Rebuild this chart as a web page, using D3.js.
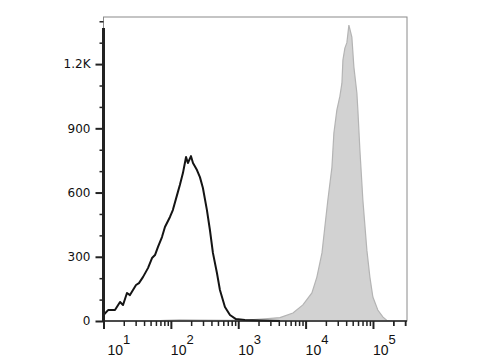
<!DOCTYPE html>
<html>
<head>
<meta charset="utf-8">
<script src="https://cdn.jsdelivr.net/npm/d3@7/dist/d3.min.js"></script>
<style>
  body { margin: 0; background: #fff; }
  svg { display: block; }
</style>
</head>
<body>
<script>
// isotype / unstained (black outline)
var ctrlX = [10, 11.7, 14.8, 17.6, 19.5, 22.3, 24.7, 27.4, 30.4, 33.6, 38.5, 45.7, 52.5, 58.1,
             64.4, 73.8, 81.7, 97, 107, 127, 136, 151, 168, 179, 199, 213, 244, 270, 299,
             343, 380, 421, 483, 535, 635, 754, 925, 1256, 2100, 4160];
var ctrlY = [28, 51, 51, 89, 75, 131, 121, 145, 168, 177, 205, 247, 294, 308,
             346, 392, 439, 486, 518, 602, 635, 691, 766, 738, 770, 738, 705, 672, 621,
             518, 425, 318, 224, 145, 65, 28, 9, 5, 2, 0];

// stained sample (grey filled)
var stainX = [49, 82, 136, 270, 754, 1490, 2490, 4160, 6490, 9120, 12400, 14700, 17500, 19300,
              21400, 24600, 26300, 29100, 32300, 34600, 35800, 38300, 41000, 43900, 48600,
              52100, 57700, 59700, 64000, 70800, 81200, 90000, 99700, 118000, 140000, 161000, 191000];
var stainY = [0, 3, 5, 4, 3, 5, 10, 16, 37, 75, 131, 205, 318, 439,
              565, 719, 878, 985, 1050, 1111, 1219, 1275, 1300, 1382, 1326,
              1186, 1065, 985, 798, 565, 331, 205, 112, 51, 19, 3, 0];

var yMajor = [0, 300, 600, 900, 1200];
var yLabels = ["0", "300", "600", "900", "1.2K"];
var xDecades = [1, 2, 3, 4, 5];

var svg = d3.select("body").append("svg")
    .attr("width", 480)
    .attr("height", 360);

var x = d3.scaleLog().domain([10, 3.2e5]).range([103.5, 407]);
var y = d3.scaleLinear().domain([0, 1420]).range([321, 17]);

// frame
svg.append("rect")
    .attr("x", x.range()[0]).attr("y", y.range()[1])
    .attr("width", x.range()[1] - x.range()[0])
    .attr("height", y.range()[0] - y.range()[1])
    .attr("fill", "none")
    .attr("stroke", "#8a8a8a")
    .attr("stroke-width", 1);

var stain = stainX.map(function (d, i) { return [d, stainY[i]]; });
var ctrl = ctrlX.map(function (d, i) { return [d, ctrlY[i]]; });

svg.append("path")
    .datum(stain)
    .attr("d", d3.area().x(d => x(d[0])).y0(y(0)).y1(d => y(d[1])))
    .attr("fill", "#d2d2d2")
    .attr("stroke", "#b4b4b4")
    .attr("stroke-width", 1.2);

svg.append("path")
    .datum(ctrl)
    .attr("d", d3.line().x(d => x(d[0])).y(d => y(d[1])))
    .attr("fill", "none")
    .attr("stroke", "#141414")
    .attr("stroke-width", 2)
    .attr("stroke-linejoin", "round");

// y axis
var yMinor = d3.range(100, 1500, 100).filter(d => yMajor.indexOf(d) < 0);
svg.append("g")
    .attr("transform", "translate(" + x.range()[0] + ",0)")
    .call(d3.axisLeft(y).tickValues(yMinor).tickSize(4).tickFormat(""))
    .call(g => g.select(".domain").remove())
    .selectAll("line").attr("stroke", "#222").attr("stroke-width", 1.5);

var yAxis = svg.append("g")
    .attr("transform", "translate(" + x.range()[0] + ",0)")
    .call(d3.axisLeft(y).tickValues(yMajor).tickSize(8).tickPadding(5)
        .tickFormat((d, i) => yLabels[i]));
yAxis.select(".domain").remove();
yAxis.selectAll("line").attr("stroke", "#222").attr("stroke-width", 2);
yAxis.selectAll("text")
    .attr("fill", "#111")
    .style("font-family", "DejaVu Sans, sans-serif")
    .style("font-size", "12px");

svg.append("line")
    .attr("x1", x.range()[0]).attr("x2", x.range()[0])
    .attr("y1", y(0) + 1).attr("y2", 28)
    .attr("stroke", "#222").attr("stroke-width", 3);

// x axis
var xMinor = [];
xDecades.forEach(function (e) {
    for (var k = 2; k <= 9; k++) {
        var v = k * Math.pow(10, e);
        if (v <= 3.2e5) xMinor.push(v);
    }
});
xMinor.push(2e5, 3e5);

svg.append("g")
    .attr("transform", "translate(0," + y(0) + ")")
    .call(d3.axisBottom(x).tickValues(xMinor).tickSize(5).tickFormat(""))
    .call(g => g.select(".domain").remove())
    .selectAll("line").attr("stroke", "#222").attr("stroke-width", 1.5);

var xAxis = svg.append("g")
    .attr("transform", "translate(0," + y(0) + ")")
    .call(d3.axisBottom(x).tickValues(xDecades.map(e => Math.pow(10, e))).tickSize(8).tickFormat(""));
xAxis.select(".domain").remove();
xAxis.selectAll("line").attr("stroke", "#222").attr("stroke-width", 2);

svg.append("line")
    .attr("x1", x.range()[0]).attr("x2", x.range()[1])
    .attr("y1", y(0)).attr("y2", y(0))
    .attr("stroke", "#222").attr("stroke-width", 1.5);

var lab = svg.append("g")
    .style("font-family", "Liberation Sans, Arial, sans-serif")
    .attr("fill", "#111");
xDecades.forEach(function (e, i) {
    var t = lab.append("text")
        .attr("x", x(Math.pow(10, e)) + (i === 0 ? 4 : 0))
        .attr("y", 355)
        .style("font-size", "14px");
    t.append("tspan").text("10");
    t.append("tspan").attr("dy", -11).style("font-size", "13px").text(e);
});
</script>
</body>
</html>
